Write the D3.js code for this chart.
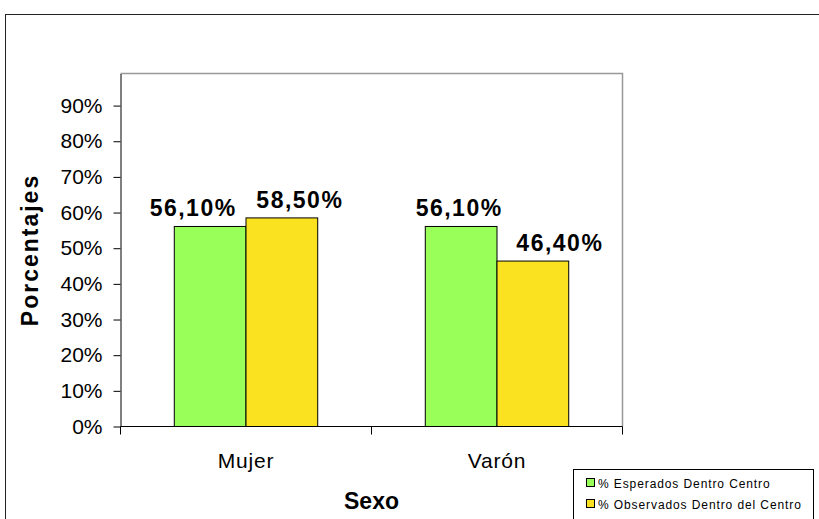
<!DOCTYPE html>
<html lang="es">
<head>
  <meta charset="UTF-8">
  <title>Porcentajes por Sexo</title>
  <style>
    body { margin: 0; background: #fff; }
    svg { display: block; font-family: Arial, "Liberation Sans", sans-serif; }
  </style>
</head>
<body>
  <svg id="chart" width="819" height="519"></svg>

  <script src="https://cdn.jsdelivr.net/npm/d3@7"></script>
  <script>
    // data
    const categories = ["Mujer", "Varón"];
    const seriesNames = ["% Esperados Dentro Centro", "% Observados Dentro del Centro"];
    const esperados = [0.561, 0.561];
    const observados = [0.585, 0.464];
    const yTicks = [0, 0.1, 0.2, 0.3, 0.4, 0.5, 0.6, 0.7, 0.8, 0.9];
    const colors = ["#99FF59", "#FAE220"];

    // labels were nudged sideways in the original (px, per category then series)
    const labelNudge = [[-17, 18], [-2, 27]];

    const svg = d3.select("#chart");

    // outer chart frame (runs off the right/bottom edge)
    svg.append("rect")
      .attr("x", 5.5).attr("y", 14.5)
      .attr("width", 830).attr("height", 530)
      .attr("fill", "none").attr("stroke", "#222").attr("stroke-width", 1);

    const plot = { left: 120.5, right: 622.5, top: 73.5, bottom: 426.5 };

    // gap width 150% like the original: bars take 2/3.5 of each category
    const x0 = d3.scaleBand().domain(categories)
      .range([plot.left, plot.right]).paddingInner(1.5 / 3.5).paddingOuter(0.75 / 3.5);
    const x1 = d3.scaleBand().domain([0, 1]).range([0, x0.bandwidth()]);
    const y = d3.scaleLinear().domain([0, 0.99]).range([plot.bottom, plot.top]);

    // plot area border (gray top/right)
    svg.append("path")
      .attr("d", `M${plot.left},${plot.top}H${plot.right}V${plot.bottom}`)
      .attr("fill", "none").attr("stroke", "#999").attr("stroke-width", 1.5);

    const rows = categories.map((c, i) => ({ cat: c, i, vals: [esperados[i], observados[i]] }));

    const groups = svg.append("g").selectAll("g").data(rows).join("g")
      .attr("transform", d => `translate(${x0(d.cat)},0)`);

    groups.selectAll("rect").data(d => d.vals.map((v, k) => ({ v, k }))).join("rect")
      .attr("x", d => x1(d.k))
      .attr("y", d => y(d.v))
      .attr("width", x1.bandwidth())
      .attr("height", d => y(0) - y(d.v))
      .attr("fill", d => colors[d.k])
      .attr("stroke", "#000").attr("stroke-width", 1);

    const fmt = v => d3.format(".2f")(v * 100).replace(".", ",") + "%";

    groups.selectAll("text").data(d => d.vals.map((v, k) => ({ v, k, i: d.i }))).join("text")
      .attr("x", d => x1(d.k) + x1.bandwidth() / 2 + labelNudge[d.i][d.k])
      .attr("y", d => y(d.v) - 10)
      .attr("text-anchor", "middle")
      .attr("font-size", 23).attr("font-weight", "bold")
      .attr("letter-spacing", 1.5)
      .text(d => fmt(d.v));

    // y axis
    const yAxis = d3.axisLeft(y).tickValues(yTicks).tickSize(7).tickSizeOuter(0).tickPadding(11)
      .tickFormat(d => Math.round(d * 100) + "%");
    const gy = svg.append("g").attr("transform", `translate(${plot.left},0)`).call(yAxis);
    gy.select(".domain").attr("stroke", "#000");
    gy.selectAll("text").attr("font-size", 21).attr("fill", "#000")
      .attr("font-family", "Arial, 'Liberation Sans', sans-serif");

    // x axis: ticks at category boundaries
    const gx = svg.append("g").attr("transform", `translate(0,${plot.bottom})`);
    gx.append("line").attr("x1", plot.left).attr("x2", plot.right)
      .attr("stroke", "#000");
    const bounds = [plot.left, (plot.left + plot.right) / 2, plot.right];
    gx.selectAll("line.tk").data(bounds).join("line").attr("class", "tk")
      .attr("x1", d => d).attr("x2", d => d).attr("y1", 0).attr("y2", 8)
      .attr("stroke", "#000");
    gx.selectAll("text").data(categories).join("text")
      .attr("x", d => x0(d) + x0.bandwidth() / 2)
      .attr("y", 41)
      .attr("text-anchor", "middle")
      .attr("font-size", 21).attr("letter-spacing", 0.8)
      .text(d => d);

    // axis titles
    svg.append("text")
      .attr("transform", `translate(38,${(plot.top + plot.bottom) / 2}) rotate(-90)`)
      .attr("text-anchor", "middle")
      .attr("font-size", 23).attr("font-weight", "bold").attr("letter-spacing", 2)
      .text("Porcentajes");
    svg.append("text")
      .attr("x", (plot.left + plot.right) / 2).attr("y", 509)
      .attr("text-anchor", "middle")
      .attr("font-size", 23).attr("font-weight", "bold")
      .text("Sexo");

    // legend
    const legend = svg.append("g");
    legend.append("rect")
      .attr("x", 573.5).attr("y", 469.5).attr("width", 240).attr("height", 60)
      .attr("fill", "#fff").attr("stroke", "#000");
    const items = legend.selectAll("g").data(seriesNames).join("g")
      .attr("transform", (d, i) => `translate(586,${483 + i * 21})`);
    items.append("rect")
      .attr("x", 0.5).attr("y", -4.5).attr("width", 8).attr("height", 8)
      .attr("fill", (d, i) => colors[i]).attr("stroke", "#000");
    items.append("text")
      .attr("x", 12).attr("y", 4.5)
      .attr("font-size", 12).attr("letter-spacing", 0.9)
      .text(d => d);
  </script>
</body>
</html>
